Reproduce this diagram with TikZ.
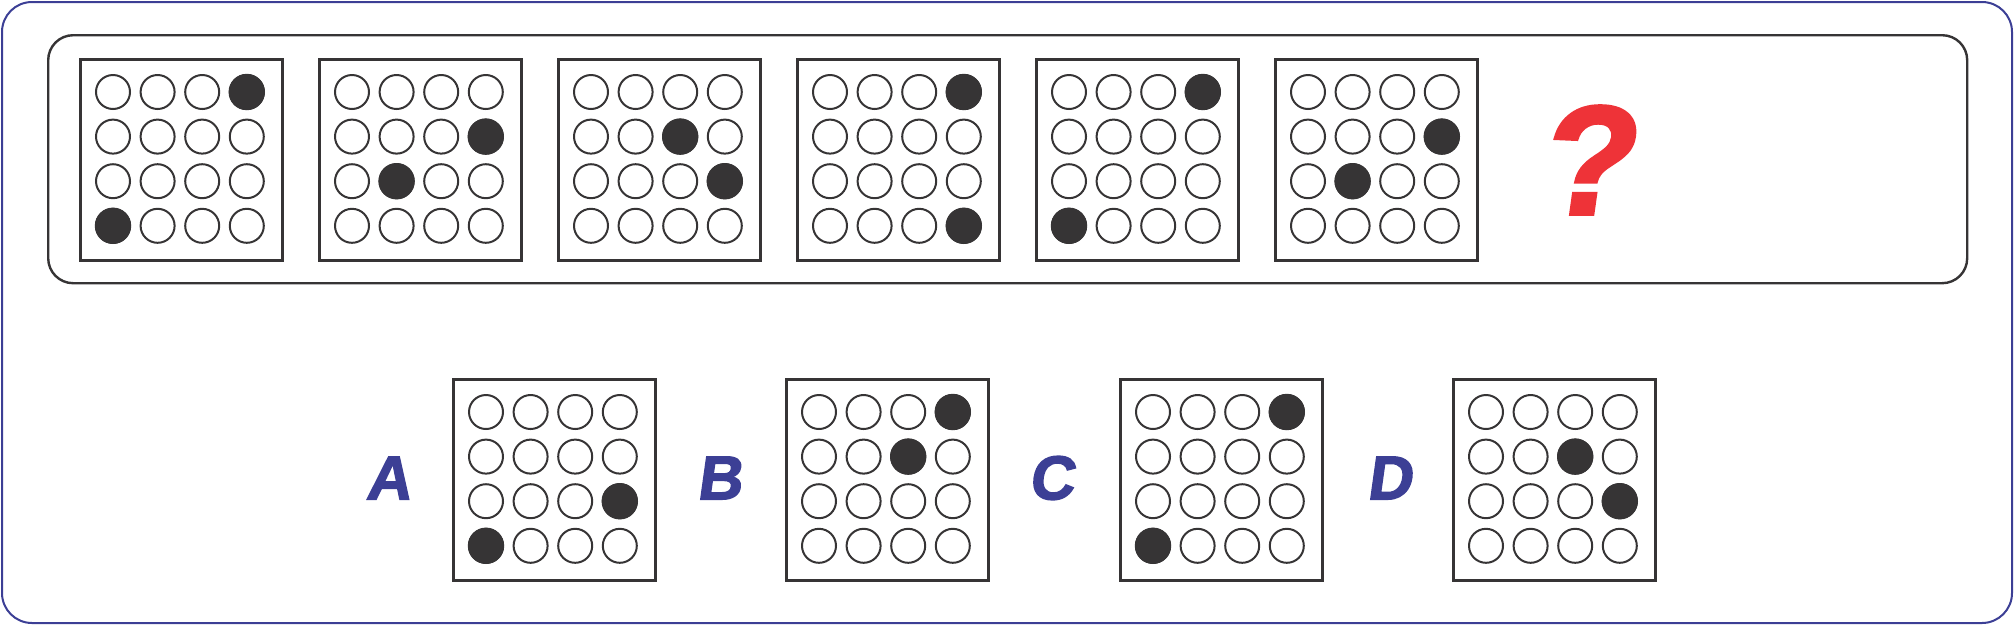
\documentclass[tikz,border=0pt]{standalone}
\usepackage{fontspec}
\setmainfont{Liberation Sans}
\newfontfamily\heavyfont[FakeBold=2.2,FakeSlant=0.14]{Liberation Sans Bold}
\definecolor{ink}{HTML}{363435}
\definecolor{frameblue}{HTML}{3C3F95}
\definecolor{qred}{HTML}{EE3338}
\usetikzlibrary{calc}
\tikzset{
  panelbox/.style={draw=ink, line width=2.6pt},
  dot/.style={draw=ink, line width=2pt, fill=white},
  filleddot/.style={fill=ink},
  letter/.style={text=frameblue, font=\heavyfont\fontsize{62}{62}\selectfont, inner sep=0pt},
}
% #1 name, #2 left x, #3 top y, #4 filled list (row/col)
\newcommand{\mypanel}[4]{%
  \node[panelbox, minimum width=202pt, minimum height=201pt, inner sep=0pt, anchor=north west] (#1) at (#2,#3) {};
  \foreach \r in {0,...,3}{\foreach \c in {0,...,3}{
    \draw[dot] ($(#1.north west)+(34+44.6*\c,34+44.6*\r)$) circle (17);
  }}
  \foreach \r/\c in {#4}{
    \fill[filleddot] ($(#1.north west)+(34+44.6*\c-44.6,34+44.6*\r-44.6)$) circle (18.2);
  }
}
\begin{document}
\begin{tikzpicture}[x=1pt,y=-1pt]
\useasboundingbox (0,0) rectangle (2014,625);
\draw[draw=frameblue, line width=2pt, rounded corners=30pt] (2,2) rectangle (2012,623);
\node[draw=ink, line width=2.4pt, rounded corners=25pt, minimum width=1919pt, minimum height=248pt, anchor=north west, inner sep=0pt] (strip) at (47,34) {};
\mypanel{p1}{79}{58}{1/4,4/1}
\mypanel{p2}{318}{58}{2/4,3/2}
\mypanel{p3}{557}{58}{2/3,3/4}
\mypanel{p4}{796}{58}{1/4,4/4}
\mypanel{p5}{1035}{58}{1/4,4/1}
\mypanel{p6}{1274}{58}{2/4,3/2}
\node[text=qred, font=\heavyfont\fontsize{155}{155}\selectfont, inner sep=0pt] (q) at (1585,160) {?};
\mypanel{pa}{452}{378}{3/4,4/1}
\mypanel{pb}{785}{378}{1/4,2/3}
\mypanel{pc}{1119}{378}{1/4,4/1}
\mypanel{pd}{1452}{378}{2/3,3/4}
\node[letter] (la) at (388,478) {A};
\node[letter] (lb) at (719,478) {B};
\node[letter] (lc) at (1051,478) {C};
\node[letter] (ld) at (1389,478) {D};
\end{tikzpicture}
\end{document}
